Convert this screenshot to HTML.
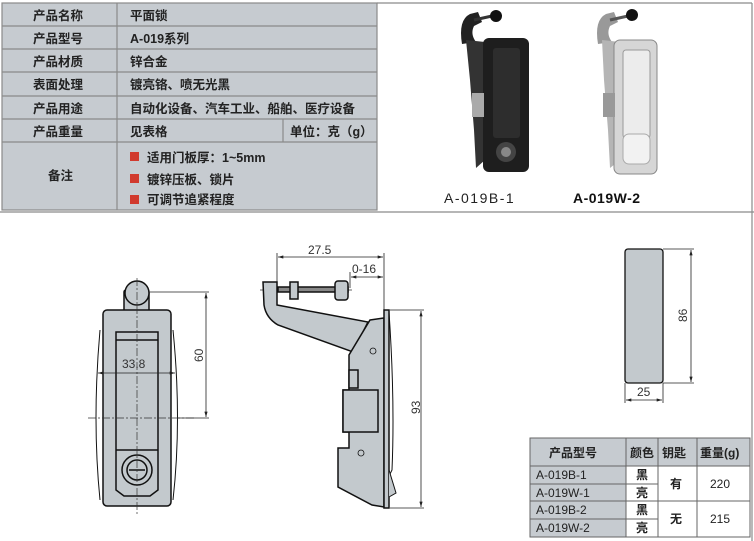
<!DOCTYPE html><html><head><meta charset="utf-8"><style>
body{margin:0;width:754px;height:541px;background:#fff;overflow:hidden;font-family:"Liberation Sans","Noto Sans CJK SC",sans-serif}
svg{position:absolute;left:0;top:0}
.t{font-family:"Liberation Sans","Noto Sans CJK SC",sans-serif;font-size:12.5px;font-weight:bold;fill:#222}
.d{font-family:"Liberation Sans",sans-serif;font-size:12px;fill:#333}
</style></head><body>
<svg width="754" height="541" viewBox="0 0 754 541">
<defs>
<marker id="a" viewBox="0 0 10 6" refX="10" refY="3" markerWidth="9" markerHeight="4" orient="auto-start-reverse"><path d="M0 0 L10 3 L0 6 Z" fill="#222"/></marker>
</defs>
<rect x="2" y="3" width="375" height="207" fill="#c6cbd0"/>
<g stroke="#8a8a8a" stroke-width="1.2" fill="none">
<rect x="2" y="3" width="375" height="207"/>
<line x1="2" y1="26" x2="377" y2="26"/><line x1="2" y1="49" x2="377" y2="49"/>
<line x1="2" y1="72" x2="377" y2="72"/><line x1="2" y1="96" x2="377" y2="96"/>
<line x1="2" y1="119" x2="377" y2="119"/><line x1="2" y1="142" x2="377" y2="142"/>
<line x1="117" y1="3" x2="117" y2="210"/><line x1="283" y1="119" x2="283" y2="142"/>
<line x1="0" y1="212" x2="754" y2="212"/><line x1="752" y1="3" x2="752" y2="541"/>
<line x1="377" y1="3" x2="752" y2="3"/>
</g>
<g class="t">
<text x="33" y="20">产品名称</text><text x="33" y="43">产品型号</text><text x="33" y="66">产品材质</text>
<text x="33" y="89">表面处理</text><text x="33" y="113">产品用途</text><text x="33" y="136">产品重量</text>
<text x="48" y="180">备注</text>
<text x="130" y="20">平面锁</text><text x="130" y="43">A-019系列</text><text x="130" y="66">锌合金</text>
<text x="130" y="89">镀亮铬、喷无光黑</text><text x="130" y="113">自动化设备、汽车工业、船舶、医疗设备</text>
<text x="130" y="136">见表格</text><text x="290" y="136">单位：克（g）</text>
<text x="147" y="162">适用门板厚：1~5mm</text><text x="147" y="184">镀锌压板、锁片</text><text x="147" y="204">可调节追紧程度</text>
</g>
<rect x="130" y="152" width="9" height="9" fill="#d13a2e"/><rect x="130" y="174" width="9" height="9" fill="#d13a2e"/><rect x="130" y="195" width="9" height="9" fill="#d13a2e"/>
<!-- photos -->
<g>
<path d="M462 44 Q458 20 470 14 L478 12 L482 22 L474 26 Q470 34 476 42 Z" fill="#222"/>
<line x1="474" y1="20" x2="492" y2="16" stroke="#333" stroke-width="3"/>
<circle cx="496" cy="16" r="6" fill="#111"/>
<path d="M466 40 L485 42 L485 160 L476 168 L474 130 L470 80 Z" fill="#333"/>
<rect x="483" y="38" width="46" height="134" rx="6" fill="#1e1e1e"/>
<rect x="493" y="48" width="27" height="90" rx="3" fill="#2d2d2d"/>
<circle cx="506" cy="152" r="10" fill="#444"/><circle cx="506" cy="152" r="5" fill="#888"/>
<rect x="472" y="93" width="12" height="24" fill="#aaa"/>
<path d="M598 44 Q594 20 606 14 L614 12 L618 22 L610 26 Q606 34 612 42 Z" fill="#999"/>
<line x1="610" y1="20" x2="628" y2="16" stroke="#555" stroke-width="3"/>
<circle cx="632" cy="15" r="6" fill="#111"/>
<path d="M602 40 L620 42 L620 160 L610 168 L608 130 L604 80 Z" fill="#b5b5b5"/>
<rect x="614" y="40" width="43" height="134" rx="6" fill="#d6d6d6" stroke="#888"/>
<rect x="623" y="50" width="27" height="88" rx="3" fill="#ececec" stroke="#999"/>
<rect x="623" y="134" width="27" height="30" rx="6" fill="#f2f2f2" stroke="#aaa"/>
<rect x="603" y="93" width="12" height="24" fill="#999"/>
</g>
<text x="444" y="203" style="font-size:14px;fill:#222;letter-spacing:1.5px" font-family="Liberation Sans">A-019B-1</text>
<text x="573" y="203" style="font-size:14px;fill:#111;font-weight:bold;letter-spacing:.5px" font-family="Liberation Sans">A-019W-2</text>
<!-- front view -->
<g stroke="#111" stroke-width="1.5" fill="#c3c9cd">
<path d="M100 330 Q92 420 100 500" fill="none" stroke-width="1"/><path d="M173 330 Q182 420 173 500" fill="none" stroke-width="1"/>
<rect x="124" y="290" width="25" height="22" rx="2"/>
<circle cx="137" cy="293" r="12"/>
<rect x="103" y="310" width="68" height="196" rx="4"/>
<path d="M116 332 H158 V490 L150 496 H124 L116 490 Z"/>
<line x1="116" y1="340" x2="158" y2="340"/>
<line x1="116" y1="450" x2="158" y2="450"/>
<circle cx="137" cy="470" r="15"/><circle cx="137" cy="470" r="10"/>
<line x1="129" y1="470" x2="145" y2="470"/>
</g>
<g stroke="#333" stroke-width=".7" fill="none" stroke-dasharray="8 2 2 2">
<line x1="137" y1="278" x2="137" y2="515"/><line x1="88" y1="418" x2="195" y2="418"/>
<line x1="260" y1="290" x2="352" y2="290"/>
</g>
<g stroke="#222" stroke-width=".8">
<line x1="150" y1="292" x2="209" y2="292"/><line x1="178" y1="418" x2="209" y2="418"/>
<line x1="206" y1="293" x2="206" y2="417" marker-start="url(#a)" marker-end="url(#a)"/>
<line x1="98" y1="373" x2="175" y2="373" marker-start="url(#a)" marker-end="url(#a)"/>
<line x1="277" y1="253" x2="277" y2="283"/><line x1="384" y1="253" x2="384" y2="310"/>
<line x1="278" y1="257" x2="383" y2="257" marker-start="url(#a)" marker-end="url(#a)"/>
<line x1="350" y1="272" x2="350" y2="288"/>
<line x1="351" y1="277" x2="383" y2="277" marker-start="url(#a)" marker-end="url(#a)"/>
<line x1="390" y1="310" x2="424" y2="310"/><line x1="390" y1="508" x2="424" y2="508"/>
<line x1="421" y1="311" x2="421" y2="507" marker-start="url(#a)" marker-end="url(#a)"/>
<line x1="663" y1="249" x2="694" y2="249"/><line x1="663" y1="383" x2="694" y2="383"/>
<line x1="691" y1="250" x2="691" y2="382" marker-start="url(#a)" marker-end="url(#a)"/>
<line x1="625" y1="383" x2="625" y2="403"/><line x1="663" y1="383" x2="663" y2="403"/>
<line x1="626" y1="400" x2="662" y2="400" marker-start="url(#a)" marker-end="url(#a)"/>
</g>
<text class="d" x="122" y="368">33.8</text>
<text class="d" transform="translate(203,362) rotate(-90)">60</text>
<text class="d" x="308" y="254">27.5</text><text class="d" x="352" y="273">0-16</text>
<text class="d" transform="translate(420,414) rotate(-90)">93</text>
<text class="d" transform="translate(687,322) rotate(-90)">86</text>
<text class="d" x="637" y="396">25</text>
<!-- side view -->
<g stroke="#111" stroke-width="1.5" fill="#c3c9cd">
<path d="M263 282 H277 V305 L368 322 L353 352 L278 325 Q266 318 264 305 Z"/>
<path d="M370 320 L384 318 V507 L372 505 L338 487 V448 L349 448 V432 H343 V390 H349 V355 Z"/>
<rect x="343" y="390" width="35" height="42"/>
<rect x="349" y="370" width="9" height="18"/>
<rect x="384" y="310" width="5" height="198"/>
<path d="M389 312 Q395 400 392 470 L389 476" fill="none" stroke-width="1"/>
<path d="M389 470 L396 493 L389 497" fill="#c3c9cd" stroke-width="1"/>
<rect x="278" y="287" width="70" height="5" fill="#888"/>
<rect x="290" y="282" width="8" height="17"/>
<rect x="335" y="281" width="13" height="19" rx="3"/>
</g>
<g stroke="#111" stroke-width=".8" fill="none">
<circle cx="373" cy="351" r="3"/><circle cx="361" cy="453" r="3"/>
</g>
<rect x="625" y="249" width="38" height="134" rx="3" fill="#c3c9cd" stroke="#111" stroke-width="1.3"/>
<!-- bottom table -->
<rect x="530" y="438" width="220" height="28" fill="#c6cbd0"/>
<rect x="530" y="466" width="96" height="71" fill="#c6cbd0"/>
<g stroke="#666" stroke-width="1" fill="none">
<rect x="530" y="438" width="220" height="99"/>
<line x1="530" y1="466" x2="750" y2="466"/><line x1="530" y1="501" x2="750" y2="501"/>
<line x1="530" y1="484" x2="658" y2="484"/><line x1="530" y1="519" x2="658" y2="519"/>
<line x1="626" y1="438" x2="626" y2="537"/><line x1="658" y1="438" x2="658" y2="537"/>
<line x1="697" y1="438" x2="697" y2="537"/>
</g>
<g class="t" style="font-size:12px">
<text x="549" y="457">产品型号</text><text x="630" y="457">颜色</text><text x="662" y="457">钥匙</text><text x="700" y="457">重量(g)</text>
<text x="536" y="479" style="font-weight:normal">A-019B-1</text><text x="536" y="497" style="font-weight:normal">A-019W-1</text>
<text x="536" y="514" style="font-weight:normal">A-019B-2</text><text x="536" y="532" style="font-weight:normal">A-019W-2</text>
<text x="636" y="479">黑</text><text x="636" y="497">亮</text><text x="636" y="514">黑</text><text x="636" y="532">亮</text>
<text x="670" y="488">有</text><text x="670" y="523">无</text>
<text x="710" y="488" style="font-weight:normal">220</text><text x="710" y="523" style="font-weight:normal">215</text>
</g>
</svg>
</body></html>
